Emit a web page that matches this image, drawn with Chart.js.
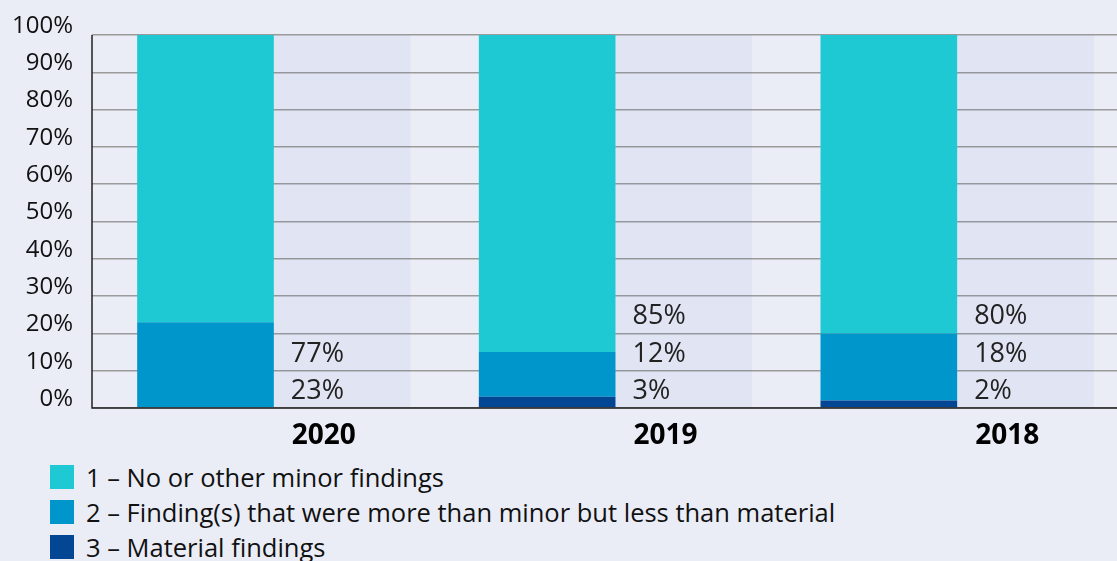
<!DOCTYPE html>
<html>
<head>
<meta charset="utf-8">
<script src="https://cdn.jsdelivr.net/npm/chart.js@4"></script>
<style>
  html, body { margin: 0; padding: 0; background: #eaedf6; overflow: hidden; }
  body { width: 1117px; height: 561px; position: relative; font-family: "Open Sans", sans-serif; }
  #wrap { position: absolute; left: 0; top: 0; width: 1128px; height: 451px; }
  #legend { position: absolute; left: 50px; top: 459px; }
  .item { display: flex; align-items: center; height: 35px; font-size: 25.5px; color: #111; }
  .swatch { width: 24px; height: 24px; margin-right: 12px; }
</style>
</head>
<body>
<div id="wrap"><canvas id="chart"></canvas></div>
<div id="legend"></div>
<script>
  const years = ["2020", "2019", "2018"];
  const seriesNames = [
    "1 \u2013 No or other minor findings",
    "2 \u2013 Finding(s) that were more than minor but less than material",
    "3 \u2013 Material findings",
  ];
  const minorFindings = [77, 85, 80];
  const moreThanMinor = [23, 12, 18];
  const materialFindings = [0, 3, 2];
  const bandValues = [100, 100, 100];
  const yTicks = [0, 10, 20, 30, 40, 50, 60, 70, 80, 90, 100];

  const colors = {
    minor: "#1fc9d4",
    middle: "#0096cc",
    material: "#034794",
    band: "rgba(80, 100, 200, 0.06)",
    grid: "#9b9b9b",
  };

  // legend, top to bottom
  const legendColors = [colors.minor, colors.middle, colors.material];
  const legendNode = document.getElementById("legend");
  seriesNames.forEach(function (name, i) {
    const row = document.createElement("div");
    row.className = "item";
    const sw = document.createElement("span");
    sw.className = "swatch";
    sw.style.background = legendColors[i];
    const txt = document.createElement("span");
    txt.textContent = name;
    row.appendChild(sw);
    row.appendChild(txt);
    legendNode.appendChild(row);
  });

  // percentage labels stacked inside the pale band, one row per 10%
  const bandLabels = {
    id: "bandLabels",
    afterDatasetsDraw(chart) {
      const ctx = chart.ctx;
      const yScale = chart.scales.y;
      const bandMeta = chart.getDatasetMeta(3);
      ctx.save();
      ctx.font = "27px 'Open Sans'";
      ctx.fillStyle = "#222";
      ctx.textAlign = "left";
      ctx.textBaseline = "middle";
      years.forEach(function (year, i) {
        const el = bandMeta.data[i];
        const left = el.x - el.width / 2 + 17;
        const values = [materialFindings[i], moreThanMinor[i], minorFindings[i]].filter(function (v) {
          return v > 0;
        });
        values.forEach(function (v, k) {
          ctx.fillText(v + "%", left, yScale.getPixelForValue(4.5 + 10 * k));
        });
      });
      ctx.restore();
    },
  };

  const axisLines = {
    id: "axisLines",
    afterDatasetsDraw(chart) {
      const { ctx, chartArea, scales } = chart;
      const left = chartArea.left - scales.y.options.grid.tickLength;
      const bottom = scales.y.getPixelForValue(0);
      ctx.save();
      ctx.strokeStyle = "#222";
      ctx.lineWidth = 1.5;
      ctx.beginPath();
      ctx.moveTo(left, chartArea.top);
      ctx.lineTo(left, bottom);
      ctx.lineTo(chart.width, bottom);
      ctx.stroke();
      ctx.restore();
    },
  };

  new Chart(document.getElementById("chart"), {
    type: "bar",
    data: {
      labels: years,
      datasets: [
        { label: seriesNames[2], data: materialFindings, backgroundColor: colors.material, stack: "bar" },
        { label: seriesNames[1], data: moreThanMinor, backgroundColor: colors.middle, stack: "bar" },
        { label: seriesNames[0], data: minorFindings, backgroundColor: colors.minor, stack: "bar" },
        { label: "band", data: bandValues, backgroundColor: colors.band, stack: "band" },
      ],
    },
    options: {
      responsive: true,
      maintainAspectRatio: false,
      animation: false,
      categoryPercentage: 0.8,
      barPercentage: 1.0,
      layout: { padding: { top: 35, bottom: 3, left: 0, right: 0 } },
      plugins: {
        legend: { display: false },
        tooltip: { enabled: false },
      },
      scales: {
        x: {
          stacked: true,
          grid: { display: false },
          border: { display: false },
          ticks: {
            color: "#000",
            font: { family: "Open Sans", size: 28, weight: "bold" },
            labelOffset: 50,
            padding: 3,
            maxRotation: 0,
          },
          afterFit(scale) { scale.height = 40; },
        },
        y: {
          stacked: true,
          min: 0,
          max: 100,
          afterBuildTicks(scale) {
            scale.ticks = yTicks.map(function (v) { return { value: v }; });
          },
          grid: { color: colors.grid, lineWidth: 1.5, tickLength: 11, drawTicks: true, tickColor: colors.grid },
          border: { display: false },
          ticks: {
            color: "#111",
            font: { family: "Open Sans", size: 24 },
            padding: 19,
            labelOffset: -9,
            callback: function (v) { return v + "%"; },
          },
          afterFit(scale) { scale.width = 103; },
        },
      },
    },
    plugins: [bandLabels, axisLines],
  });
</script>
</body>
</html>
